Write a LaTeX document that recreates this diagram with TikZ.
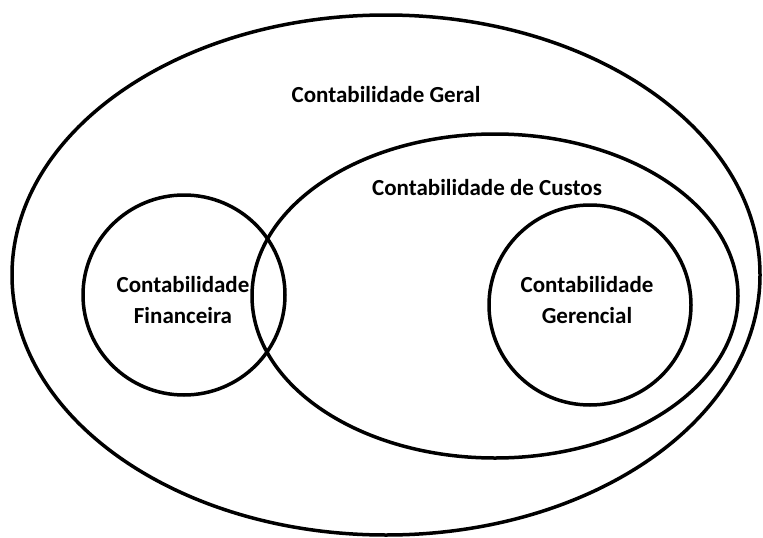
\documentclass[tikz,border=0pt]{standalone}
\usepackage{fontspec}
\setmainfont{Carlito}
\usetikzlibrary{positioning}
\begin{document}
\begin{tikzpicture}[
		x=1pt, y=-1pt,
		set/.style={draw, line width=3.5pt},
		label/.style={font=\bfseries\fontsize{23}{31}\selectfont, align=center}
	]
	\useasboundingbox (0,0) rectangle (763,538);
	% conjuntos
	\draw[set] (386,275) ellipse [x radius=374, y radius=260];
	\draw[set] (495,296) ellipse [x radius=243, y radius=162];
	\draw[set] (184,295) ellipse [x radius=101, y radius=100];
	\draw[set] (590,305) ellipse [x radius=101, y radius=100];
	% rotulos
	\node[label] (geral) at (386,95) {Contabilidade Geral};
	\node[label] (custos) at (487,188) {Contabilidade de Custos};
	\node[label] (financeira) at (183,300) {Contabilidade\\Financeira};
	\node[label] (gerencial) at (587,300) {Contabilidade\\Gerencial};
\end{tikzpicture}
\end{document}
